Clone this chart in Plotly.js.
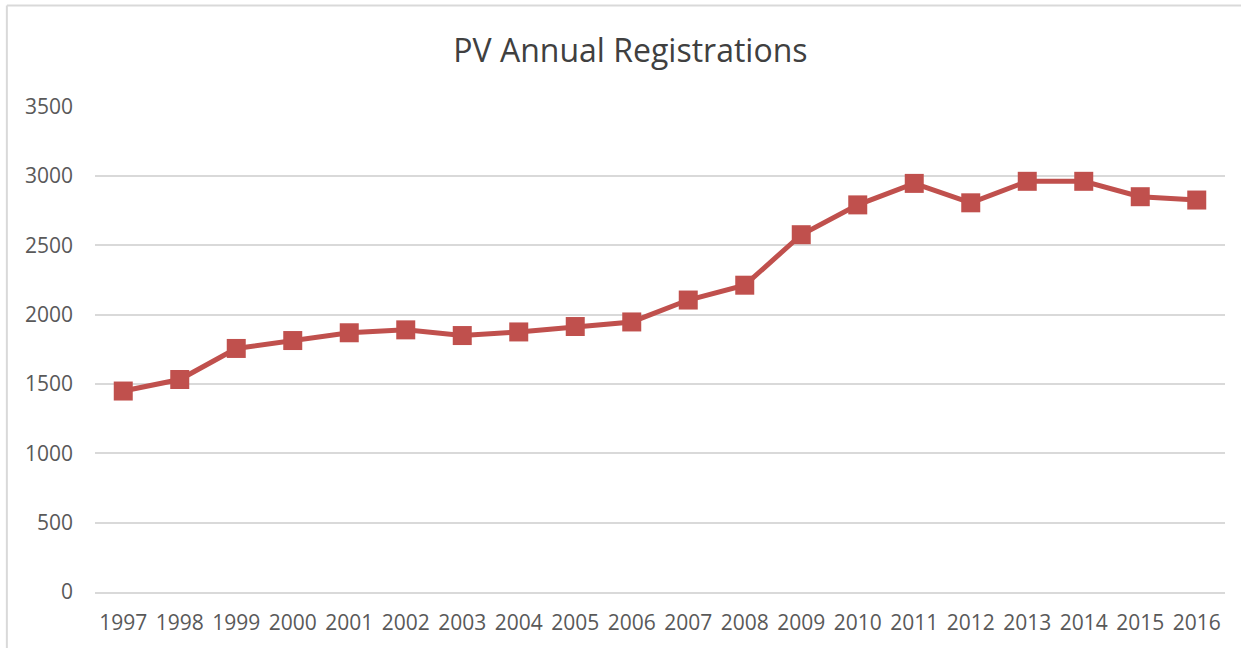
<!DOCTYPE html>
<html>
<head>
<meta charset="utf-8">
<script src="https://cdn.plot.ly/plotly-3.0.1.min.js"></script>
<style>
html,body{margin:0;padding:0;background:#fff;}
#chart{width:1241px;height:648px;}
</style>
</head>
<body>
<div id="chart"></div>
<script>
const years = ["1997","1998","1999","2000","2001","2002","2003","2004","2005","2006",
               "2007","2008","2009","2010","2011","2012","2013","2014","2015","2016"];
const registrations = [1449,1532,1756,1813,1869,1890,1849,1875,1914,1947,
                       2105,2212,2576,2791,2946,2806,2961,2961,2850,2826];
const yTicks = [0,500,1000,1500,2000,2500,3000,3500];
const chartTitle = "PV Annual Registrations";

const trace = {
  x: years,
  y: registrations,
  type: "scatter",
  mode: "lines+markers",
  line: {color: "#C0504D", width: 5},
  marker: {symbol: "square", size: 19, color: "#C0504D"},
  hoverinfo: "x+y"
};

const layout = {
  width: 1241,
  height: 648,
  margin: {l: 95, r: 16, t: 106, b: 56},
  paper_bgcolor: "#ffffff",
  plot_bgcolor: "#ffffff",
  showlegend: false,
  font: {family: "Open Sans, sans-serif", color: "#595959", size: 21},
  title: {
    text: chartTitle,
    font: {family: "Open Sans, sans-serif", size: 32, color: "#404040"},
    x: 0.508, xanchor: "center",
    y: 0.922, yanchor: "middle"
  },
  xaxis: {
    type: "category",
    range: [-0.5, 19.5],
    showgrid: false,
    zeroline: false,
    showline: true,
    linecolor: "#D9D9D9",
    linewidth: 2,
    ticks: "",
    ticklabelstandoff: 11,
    tickfont: {size: 21, color: "#595959"},
    fixedrange: true
  },
  yaxis: {
    range: [0, 3504],
    tickvals: yTicks,
    ticktext: yTicks.map(String),
    showgrid: true,
    gridcolor: "#D9D9D9",
    gridwidth: 2,
    zeroline: false,
    showline: false,
    ticks: "",
    ticklabelstandoff: 21,
    tickfont: {size: 21, color: "#595959"},
    fixedrange: true
  },
  shapes: [
    {type: "line", xref: "paper", yref: "paper", x0: -0.078, x1: 1.1, y0: 1.207, y1: 1.207,
     line: {color: "#D9D9D9", width: 2}},
    {type: "line", xref: "paper", yref: "paper", x0: -0.078, x1: -0.078, y0: -0.2, y1: 1.207,
     line: {color: "#D9D9D9", width: 2}}
  ]
};

Plotly.newPlot("chart", [trace], layout, {displayModeBar: false, staticPlot: true});
</script>
</body>
</html>
